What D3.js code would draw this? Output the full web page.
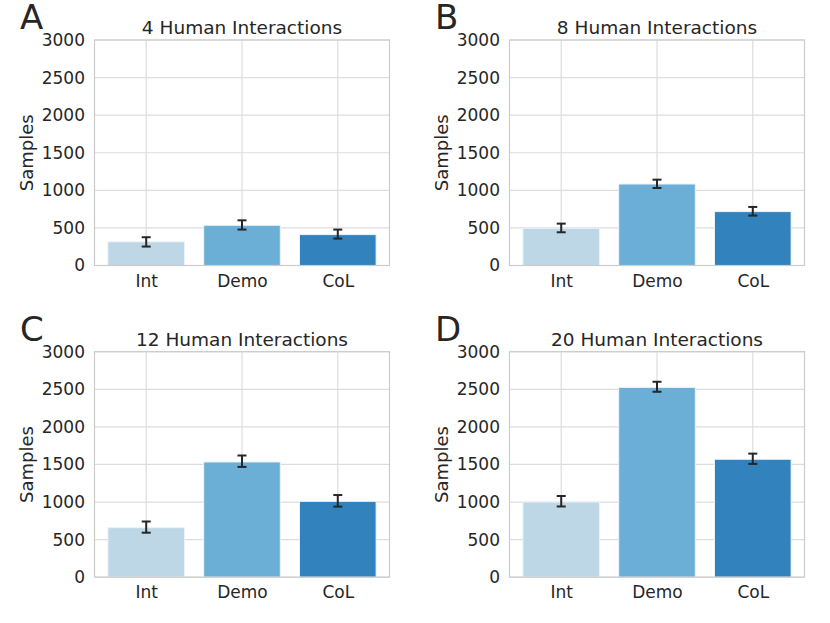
<!DOCTYPE html>
<html>
<head>
<meta charset="utf-8">
<script src="https://cdn.jsdelivr.net/npm/d3@7"></script>
<style>
  body { margin: 0; background: white; }
  text { font-family: "DejaVu Sans", sans-serif; fill: #262626; }
</style>
</head>
<body>
<div id="chart"></div>
<script>
const categories = ["Int", "Demo", "CoL"]
const panelLetters = ["A", "B", "C", "D"]
const panelTitles = ["4 Human Interactions", "8 Human Interactions", "12 Human Interactions", "20 Human Interactions"]
const samples = [
    [315, 535, 411],
    [495, 1084, 717],
    [659, 1533, 1009],
    [1000, 2525, 1569]
]
const errLow = [
    [252, 478, 358],
    [442, 1031, 664],
    [592, 1467, 939],
    [941, 2467, 1507]
]
const errHigh = [
    [376, 601, 478],
    [557, 1142, 779],
    [741, 1619, 1093],
    [1080, 2600, 1644]
]
const yTicks = [0, 500, 1000, 1500, 2000, 2500, 3000]
const barColors = ["#bdd7e7", "#6baed6", "#3182bd"]

const W = 830, H = 623
const plot = { left: 94.5, right: 389.5, top: 40, bottom: 265.5 }
const offsets = [[0, 0], [415, 0], [0, 311.7], [415, 311.7]]

const svg = d3.select("#chart").append("svg")
    .attr("width", W)
    .attr("height", H)

// category centers, bars take 0.8 of the step like seaborn
const x = d3.scalePoint().domain(categories).range([plot.left, plot.right]).padding(0.54)
const barW = x.step() * 0.8
const y = d3.scaleLinear().domain([0, 3000]).range([plot.bottom, plot.top])

panelTitles.forEach((title, i) => {
    const g = svg.append("g")
        .attr("transform", "translate(" + offsets[i][0] + "," + offsets[i][1] + ")")

    // grid
    g.selectAll(".hgrid").data(yTicks).enter().append("line")
        .attr("x1", plot.left).attr("x2", plot.right)
        .attr("y1", d => y(d)).attr("y2", d => y(d))
        .attr("stroke", "#dddddd").attr("stroke-width", 1.2)
    g.selectAll(".vgrid").data(categories).enter().append("line")
        .attr("x1", d => x(d)).attr("x2", d => x(d))
        .attr("y1", plot.top).attr("y2", plot.bottom)
        .attr("stroke", "#dddddd").attr("stroke-width", 1.2)

    // bars
    g.selectAll(".bar").data(categories).enter().append("rect")
        .attr("x", d => x(d) - barW / 2)
        .attr("width", barW)
        .attr("y", (d, j) => y(samples[i][j]))
        .attr("height", (d, j) => y(0) - y(samples[i][j]))
        .attr("fill", (d, j) => barColors[j])
        .attr("stroke", "#eaf3fa").attr("stroke-width", 1)

    // error bars
    const eb = g.selectAll(".err").data(categories).enter().append("g")
        .attr("stroke", "#262626").attr("stroke-width", 2)
    eb.append("line")
        .attr("x1", d => x(d)).attr("x2", d => x(d))
        .attr("y1", (d, j) => y(errLow[i][j])).attr("y2", (d, j) => y(errHigh[i][j]))
    eb.append("line")
        .attr("x1", d => x(d) - 4.5).attr("x2", d => x(d) + 4.5)
        .attr("y1", (d, j) => y(errLow[i][j])).attr("y2", (d, j) => y(errLow[i][j]))
    eb.append("line")
        .attr("x1", d => x(d) - 4.5).attr("x2", d => x(d) + 4.5)
        .attr("y1", (d, j) => y(errHigh[i][j])).attr("y2", (d, j) => y(errHigh[i][j]))

    // frame
    g.append("rect")
        .attr("x", plot.left).attr("y", plot.top)
        .attr("width", plot.right - plot.left).attr("height", plot.bottom - plot.top)
        .attr("fill", "none").attr("stroke", "#cccccc").attr("stroke-width", 1.2)

    // axes
    const yAxis = d3.axisLeft(y).tickValues(yTicks).tickFormat(d3.format("d")).tickSize(0).tickPadding(9.5)
    const ya = g.append("g")
        .attr("class", "axis y-axis")
        .attr("transform", "translate(" + plot.left + ",0)")
        .call(yAxis)
    ya.select(".domain").remove()
    ya.selectAll("text").style("font-size", "17px").attr("fill", "#262626")

    const xAxis = d3.axisBottom(x).tickSize(0).tickPadding(9)
    const xa = g.append("g")
        .attr("class", "axis x-axis")
        .attr("transform", "translate(0," + plot.bottom + ")")
        .call(xAxis)
    xa.select(".domain").remove()
    xa.selectAll("text").style("font-size", "17px").attr("fill", "#262626")

    // y label
    g.append("text")
        .attr("transform", "translate(33," + ((plot.top + plot.bottom) / 2) + ") rotate(-90)")
        .attr("text-anchor", "middle")
        .style("font-size", "18px")
        .text("Samples")

    // title
    g.append("text")
        .attr("x", (plot.left + plot.right) / 2)
        .attr("y", 34)
        .attr("text-anchor", "middle")
        .style("font-size", "18.5px")
        .text(title)

    // panel letter
    g.append("text")
        .attr("x", 20)
        .attr("y", 29)
        .style("font-size", "34px")
        .text(panelLetters[i])
})
</script>
</body>
</html>
